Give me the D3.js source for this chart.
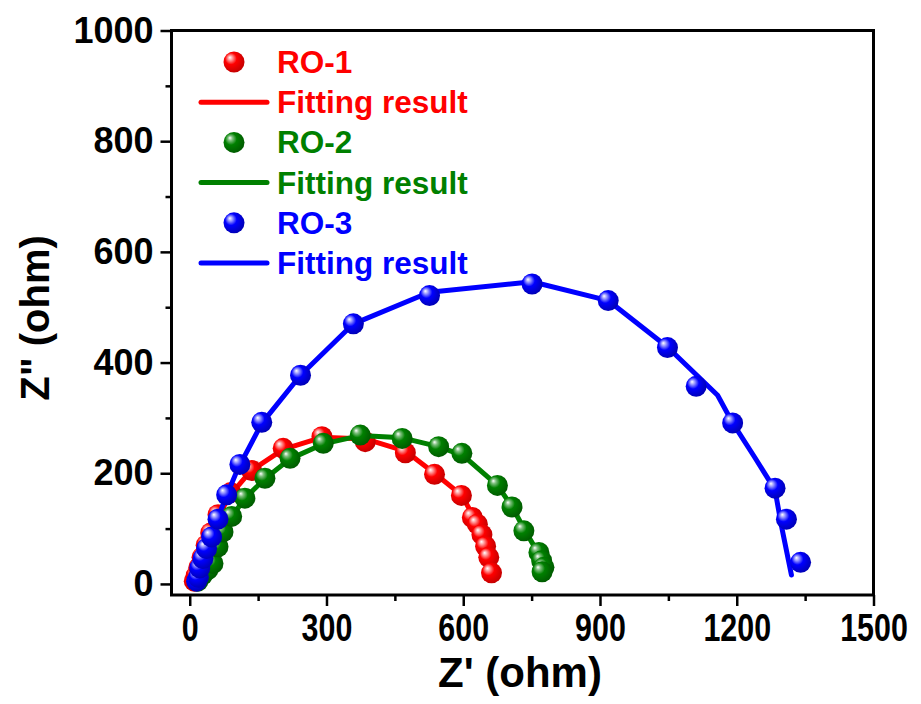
<!DOCTYPE html>
<html>
<head>
<meta charset="utf-8">
<script src="https://cdn.jsdelivr.net/npm/d3@7"></script>
<style>
  html, body { margin: 0; padding: 0; background: #fff; }
  svg { display: block; font-family: "Liberation Sans", Arial, sans-serif; font-weight: bold; }
</style>
</head>
<body>
<svg id="chart" width="921" height="704"></svg>
<script>
// Nyquist plots: measured impedance (markers) and equivalent-circuit fits (lines)
const xTicks = [0, 300, 600, 900, 1200, 1500];
const xMinorTicks = [150, 450, 750, 1050, 1350];
const yTicks = [0, 200, 400, 600, 800, 1000];
const yMinorTicks = [100, 300, 500, 700, 900];

// RO-1 measured [Z', Z'']
const ro1Data = [[10,5],[14,15],[20,30],[27,48],[36,70],[46,92],[62,125],[90,165],[136,205],[205,245],[290,266],[385,257],[473,237],[537,198],[596,160],[620,120],[631,108],[641,89],[649,68],[656,48],[662,20]];
// RO-1 fit
const ro1Fit = [[6,0],[12,16],[20,36],[30,58],[44,88],[62,122],[90,162],[135,205],[205,243],[290,265],[385,262],[473,240],[537,200],[597,160],[625,118],[645,80],[656,50],[662,18]];

// RO-2 measured
const ro2Data = [[18,5],[28,16],[40,26],[51,37],[62,67],[73,94],[92,122],[121,155],[165,191],[220,227],[293,254],[374,269],[466,263],[546,248],[597,236],[675,178],[707,139],[733,96],[766,57],[772,42],[777,30],[773,22]];
// RO-2 fit
const ro2Fit = [[14,0],[24,14],[38,30],[51,42],[62,67],[74,94],[93,122],[121,155],[165,190],[220,226],[293,253],[374,268],[466,264],[546,248],[600,232],[675,178],[707,140],[735,97],[760,62],[772,38],[775,20]];

// RO-3 measured
const ro3Data = [[15,5],[19,12],[22,29],[29,46],[37,64],[48,85],[62,117],[81,161],[110,216],[158,292],[243,377],[359,470],[526,521],[751,542],[918,512],[1048,427],[1111,357],[1191,291],[1284,173],[1309,117],[1340,39]];
// RO-3 fit
const ro3Fit = [[10,0],[17,15],[24,33],[32,52],[42,76],[56,106],[75,148],[105,207],[158,290],[243,377],[359,470],[526,527],[751,546],[918,512],[1048,428],[1158,341],[1191,291],[1240,228],[1284,170],[1298,105],[1320,16]];

const seriesNames = ["RO-1", "RO-2", "RO-3"];
const fitName = "Fitting result";
const colors = ["#ff0000", "#008000", "#0000ff"];

const svg = d3.select("#chart");
const plotLeft = 171.5, plotRight = 873.5, plotTop = 30.5, plotBottom = 595;

const x = d3.scaleLinear().domain([-40, 1500]).range([plotLeft, plotRight]);
const y = d3.scaleLinear().domain([-20, 1000]).range([plotBottom, plotTop]);

// shaded-sphere gradients for markers
const defs = svg.append("defs");
const shade = [
  { light: "#ff9a9a", base: "#ff0000", dark: "#c00000" },
  { light: "#7fc07f", base: "#008000", dark: "#005800" },
  { light: "#9a9aff", base: "#0000ff", dark: "#0000b0" }
];
shade.forEach((s, i) => {
  const g = defs.append("radialGradient")
    .attr("id", "ball" + i)
    .attr("cx", "42%").attr("cy", "42%").attr("r", "62%")
    .attr("fx", "30%").attr("fy", "28%");
  g.append("stop").attr("offset", "0%").attr("stop-color", "#ffffff");
  g.append("stop").attr("offset", "18%").attr("stop-color", s.light);
  g.append("stop").attr("offset", "45%").attr("stop-color", s.base);
  g.append("stop").attr("offset", "100%").attr("stop-color", s.dark);
});

const line = d3.line().x(d => x(d[0])).y(d => y(d[1])).curve(d3.curveLinear);

const all = [[ro1Data, ro1Fit], [ro2Data, ro2Fit], [ro3Data, ro3Fit]];
const plot = svg.append("g");
all.forEach(([data, fit], i) => {
  plot.append("path")
    .datum(fit)
    .attr("d", line)
    .attr("fill", "none")
    .attr("stroke", colors[i])
    .attr("stroke-width", 5)
    .attr("stroke-linejoin", "round")
    .attr("stroke-linecap", "round");
  plot.selectAll(null)
    .data(data)
    .enter().append("circle")
    .attr("cx", d => x(d[0]))
    .attr("cy", d => y(d[1]))
    .attr("r", 10.5)
    .attr("fill", `url(#ball${i})`);
});

// axes
const tickStyle = g => {
  g.select(".domain").remove();
  g.selectAll(".tick line").attr("stroke", "#000").attr("stroke-width", 2.5);
};

const xAxis = svg.append("g")
  .attr("transform", `translate(0,${plotBottom})`)
  .call(d3.axisBottom(x).tickValues(xTicks).tickSize(11).tickPadding(7).tickFormat(d3.format("d")))
  .call(tickStyle);
xAxis.selectAll(".tick text")
  .attr("font-size", 39)
  .attr("font-weight", "bold")
  .attr("fill", "#000")
  .attr("font-family", "Liberation Sans, Arial, sans-serif")
  .attr("transform", "scale(0.78,1)");
svg.append("g")
  .attr("transform", `translate(0,${plotBottom})`)
  .call(d3.axisBottom(x).tickValues(xMinorTicks).tickSize(6).tickFormat(""))
  .call(tickStyle);

const yAxis = svg.append("g")
  .attr("transform", `translate(${plotLeft},0)`)
  .call(d3.axisLeft(y).tickValues(yTicks).tickSize(11).tickPadding(7).tickFormat(d3.format("d")))
  .call(tickStyle);
yAxis.selectAll(".tick text")
  .attr("font-size", 36)
  .attr("font-weight", "bold")
  .attr("fill", "#000")
  .attr("font-family", "Liberation Sans, Arial, sans-serif");
svg.append("g")
  .attr("transform", `translate(${plotLeft},0)`)
  .call(d3.axisLeft(y).tickValues(yMinorTicks).tickSize(6).tickFormat(""))
  .call(tickStyle);

// frame
svg.append("rect")
  .attr("x", plotLeft).attr("y", plotTop)
  .attr("width", plotRight - plotLeft).attr("height", plotBottom - plotTop)
  .attr("fill", "none").attr("stroke", "#000").attr("stroke-width", 3);

// axis titles
svg.append("text")
  .attr("x", 520).attr("y", 687)
  .attr("text-anchor", "middle")
  .attr("font-size", 42)
  .attr("fill", "#000")
  .text("Z' (ohm)");
svg.append("text")
  .attr("transform", "translate(49,318) rotate(-90)")
  .attr("text-anchor", "middle")
  .attr("font-size", 40)
  .attr("fill", "#000")
  .text("Z\" (ohm)");

// legend
const legend = svg.append("g");
const rowY0 = 62, rowStep = 40.2;
seriesNames.forEach((name, i) => {
  const yMarker = rowY0 + rowStep * (2 * i);
  const yLine = rowY0 + rowStep * (2 * i + 1);
  legend.append("circle")
    .attr("cx", 234).attr("cy", yMarker).attr("r", 10.5)
    .attr("fill", `url(#ball${i})`);
  legend.append("text")
    .attr("x", 277).attr("y", yMarker + 11)
    .attr("font-size", 31.5).attr("fill", colors[i])
    .text(name);
  legend.append("line")
    .attr("x1", 201).attr("x2", 267)
    .attr("y1", yLine).attr("y2", yLine)
    .attr("stroke", colors[i]).attr("stroke-width", 5)
    .attr("stroke-linecap", "round");
  legend.append("text")
    .attr("x", 277).attr("y", yLine + 11)
    .attr("font-size", 31.5).attr("fill", colors[i])
    .text(fitName);
});
</script>
</body>
</html>
